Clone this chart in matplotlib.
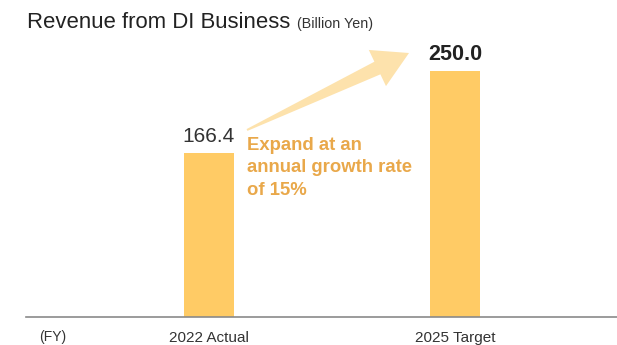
import numpy as np
import matplotlib.pyplot as plt
from matplotlib.patches import Polygon

categories = ["2022 Actual", "2025 Target"]
revenue = [166.4, 250.0]
value_labels = ["166.4", "250.0"]
note = "Expand at an\nannual growth rate\nof 15%"

plt.rcParams['font.family'] = ['Liberation Sans', 'DejaVu Sans']

W, H = 617, 345
fig = plt.figure(figsize=(W / 100, H / 100), dpi=100)
ax = fig.add_axes([26 / W, 28 / H, 591 / W, 317 / H])

x = np.arange(len(categories))
ax.bar(x, revenue, width=0.203, color='#FFCB65', zorder=2)
ax.set_xlim(-0.744, 1.659)
ax.set_ylim(0, 321.8)

for s in ['top', 'right', 'left']:
    ax.spines[s].set_visible(False)
ax.spines['bottom'].set_color('#8a8a8a')
ax.spines['bottom'].set_linewidth(1.2)
ax.set_yticks([])
ax.set_xticks(x)
ax.set_xticklabels(categories, fontsize=11, color='#333333')
ax.tick_params(axis='x', length=0, pad=10)

# value labels
ax.annotate(value_labels[0], (0, revenue[0]), xytext=(0, 8), textcoords='offset points',
            ha='center', va='baseline', fontsize=15, color='#333333')
ax.annotate(value_labels[1], (1, revenue[1]), xytext=(0, 8), textcoords='offset points',
            ha='center', va='baseline', fontsize=15.5, color='#222222', fontweight='bold')

fig.text(53 / W, 8 / H, "(FY)", ha='center', va='center', fontsize=10, color='#333333')

# title
fig.text(27 / W, 1 - 28 / H, "Revenue from DI Business", ha='left', va='baseline',
         fontsize=15.9, color='#222222')
fig.text(297 / W, 1 - 28 / H, "(Billion Yen)", ha='left', va='baseline',
         fontsize=10.3, color='#333333')

# growth arrow (tapered shaft + head), pixel geometry from top-left
tail = np.array([247.0, 130.0])
tip = np.array([409.0, 53.0])
u = (tip - tail) / np.linalg.norm(tip - tail)
n = np.array([-u[1], u[0]])
base = tip - 35 * u
pts = [tail + 1 * n, base + 7 * n, base + 20 * n, tip,
       base - 20 * n, base - 7 * n, tail - 1 * n]
pts = [(p[0] / W, 1 - p[1] / H) for p in pts]
fig.patches.append(Polygon(pts, closed=True, transform=fig.transFigure,
                           facecolor='#FDE2AC', edgecolor='none'))

fig.text(247 / W, 1 - 137 / H, note, ha='left', va='top',
         fontsize=13.3, fontweight='bold', color='#E9A84A', linespacing=1.42)

fig.savefig("out.png", dpi=100)
